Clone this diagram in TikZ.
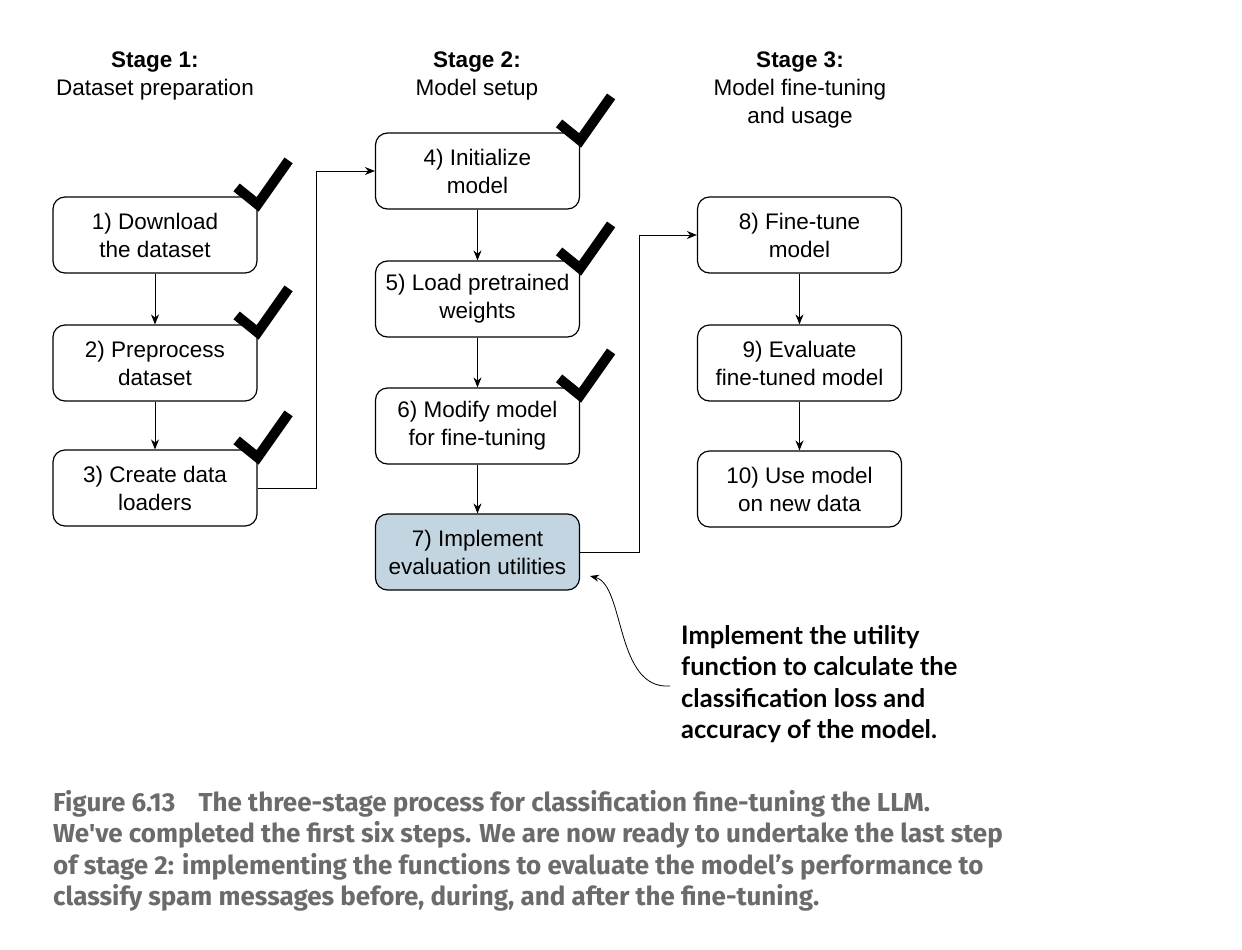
\documentclass[tikz,border=0pt]{standalone}
\usepackage{fontspec}
\setmainfont{Liberation Sans}
\newfontfamily\notefont{Lato}
\newfontfamily\capfont{Fira Sans}
\usetikzlibrary{arrows.meta}
\definecolor{boxblue}{HTML}{C3D5E0}
\definecolor{capgray}{HTML}{6B6B6B}
\tikzset{
  stepbox/.style={draw, line width=1.2pt, rounded corners=12pt, minimum width=204pt, minimum height=76pt, align=center, inner sep=0pt, font=\fontsize{22.5}{28}\selectfont, fill=white},
  hdr/.style={align=center, font=\fontsize{22.5}{28}\selectfont},
  arr/.style={line width=1pt, -{Stealth[length=10pt,width=8pt]}},
  checkmark/.style={line width=10pt, line cap=butt, line join=miter},
}
\newcommand{\checkat}[1]{\draw[checkmark] ([shift={(-21,-9)}]#1.north east) -- ([shift={(0,8)}]#1.north east) -- ([shift={(31,-36)}]#1.north east);}
\begin{document}
\begin{tikzpicture}[x=1pt,y=-1pt]
\useasboundingbox (0,0) rectangle (1242,950);
% headers
\node[hdr] (h1) at (155,76) {\textbf{Stage 1:}\\Dataset preparation};
\node[hdr] (h2) at (477,76) {\textbf{Stage 2:}\\Model setup};
\node[hdr] (h3) at (800,90) {\textbf{Stage 3:}\\Model fine-tuning\\and usage};
% boxes
\node[stepbox] (b1) at (155,235) {1) Download\\the dataset};
\node[stepbox] (b2) at (155,363) {2) Preprocess\\dataset};
\node[stepbox] (b3) at (155,488) {3) Create data\\loaders};
\node[stepbox] (b4) at (477.5,171) {4) Initialize\\model};
\node[stepbox] (b5) at (477.5,299) {5) Load pretrained\\weights};
\node[stepbox] (b6) at (477.5,426) {6) Modify model\\for fine-tuning};
\node[stepbox, fill=boxblue] (b7) at (477.5,552) {7) Implement\\evaluation utilities};
\node[stepbox] (b8) at (799.5,235) {8) Fine-tune\\model};
\node[stepbox] (b9) at (799.5,363) {9) Evaluate\\fine-tuned model};
\node[stepbox] (b10) at (799.5,489) {10) Use model\\on new data};
% vertical arrows
\draw[arr] (b1) -- (b2);
\draw[arr] (b2) -- (b3);
\draw[arr] (b4) -- (b5);
\draw[arr] (b5) -- (b6);
\draw[arr] (b6) -- (b7);
\draw[arr] (b8) -- (b9);
\draw[arr] (b9) -- (b10);
% elbow arrows
\draw[arr] (b3.east) -- ++(59,0) |- (b4.west);
\draw[arr] (b7.east) -- ++(59,0) |- (b8.west);
% checkmarks
\checkat{b1}
\checkat{b2}
\checkat{b3}
\checkat{b4}
\checkat{b5}
\checkat{b6}
% annotation
\node[anchor=north west, inner sep=0pt, align=left, font=\notefont\bfseries\fontsize{25.5}{31.5}\selectfont] (note) at (681,625)
  {Implement the utility\\function to calculate the\\classification loss and\\accuracy of the model.};
\coordinate (ns) at (670,686);
\draw[line width=0.8pt, -{Stealth[length=9pt,width=7pt]}] (ns) .. controls (615,690) and (625,585) .. (590,576);
% caption
\node[anchor=north west, inner sep=0pt, align=left, text=capgray, font=\capfont\bfseries\fontsize{26}{31.5}\selectfont] (cap) at (53,790)
  {Figure 6.13\hspace{0.9em}The three-stage process for classification fine-tuning the LLM.\\
   We've completed the first six steps. We are now ready to undertake the last step\\
   of stage 2: implementing the functions to evaluate the model’s performance to\\
   classify spam messages before, during, and after the fine-tuning.};
\end{tikzpicture}
\end{document}
